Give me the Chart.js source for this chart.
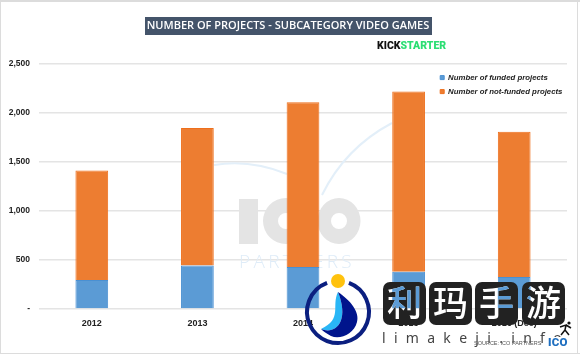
<!DOCTYPE html>
<html>
<head>
<meta charset="utf-8">
<style>
  html, body { margin: 0; padding: 0; background: #fff; }
  #wrap { position: relative; width: 580px; height: 354px; }
</style>
<script src="https://cdn.jsdelivr.net/npm/chart.js@4"></script>
</head>
<body>
<div id="wrap"><canvas id="chart" width="580" height="354"></canvas></div>
<script>
const years = ['2012', '2013', '2014', '2015', '2016 (Dec)']
const funded = [295, 442, 428, 380, 326]
const notFunded = [1115, 1400, 1677, 1835, 1479]
const yTicks = [0, 500, 1000, 1500, 2000, 2500]

const titleText = 'NUMBER OF PROJECTS - SUBCATEGORY VIDEO GAMES'
const brandChars = ['利', '玛', '手', '游']

const blue = '#5b9bd5'
const orange = '#ed7d31'

// frame, title plate and the faint logo behind the bars
const backdrop = {
    id: 'backdrop',
    beforeDraw(chart) {
        const { ctx } = chart
        ctx.save()
        ctx.fillStyle = '#fff'
        ctx.fillRect(0, 0, 580, 354)
        ctx.fillStyle = '#dcdcdc'
        ctx.fillRect(0, 0, 580, 2)
        ctx.fillRect(0, 0, 1, 354)
        ctx.fillRect(577, 0, 1, 354)
        ctx.fillRect(0, 353, 580, 1)
        ctx.fillStyle = '#44546a'
        ctx.fillRect(145, 17, 287, 18)
        ctx.restore()
    },
    beforeDatasetsDraw(chart) {
        const { ctx } = chart
        ctx.save()
        ctx.fillStyle = '#e4e4e4'
        ctx.fillRect(239, 199, 19, 45)
        ctx.beginPath()
        ctx.ellipse(286, 221, 23, 23, 0, 0, Math.PI * 2)
        ctx.ellipse(339, 221, 21.5, 23, 0, 0, Math.PI * 2)
        ctx.fill()
        ctx.fillStyle = '#fff'
        ctx.beginPath()
        ctx.arc(339, 221, 8, 0, Math.PI * 2)
        ctx.arc(286, 221, 8, 0, Math.PI * 2)
        ctx.fill()
        ctx.fillStyle = '#dfecf8'
        ctx.textBaseline = 'alphabetic'
        ctx.font = '300 19px "Open Sans"'
        ctx.letterSpacing = '3.3px'
        ctx.fillText('PARTNERS', 239, 268)
        ctx.letterSpacing = '0px'
        ctx.strokeStyle = '#e3eff9'
        ctx.lineWidth = 2
        ctx.beginPath()
        ctx.moveTo(214, 165)
        ctx.quadraticCurveTo(250, 159, 287, 174)
        ctx.moveTo(322, 195)
        ctx.quadraticCurveTo(345, 148, 392, 123)
        ctx.stroke()
        ctx.restore()
    }
}

// the stamp over the finished chart: kickstarter mark, round logo, dark tiles
const overlay = {
    id: 'overlay',
    afterLayout(chart) {
        chart.legend.left = 434
        chart.legend.top = 67.5
    },
    afterDraw(chart) {
        const { ctx } = chart
        ctx.save()

        ctx.textBaseline = 'alphabetic'
        ctx.font = '900 10.5px Roboto'
        ctx.fillStyle = '#111'
        ctx.fillText('KICK', 377, 49)
        const kickWidth = ctx.measureText('KICK').width
        ctx.fillStyle = '#2bde73'
        ctx.fillText('STARTER', 377 + kickWidth, 49)

        // round logo, open at the top for the yellow dot
        ctx.strokeStyle = '#0b1f80'
        ctx.lineWidth = 4
        ctx.beginPath()
        ctx.arc(338, 312, 31, -Math.PI / 2 + 0.36, -Math.PI / 2 - 0.36 + Math.PI * 2)
        ctx.stroke()
        ctx.fillStyle = '#ffc20e'
        ctx.beginPath()
        ctx.arc(338, 281, 7, 0, Math.PI * 2)
        ctx.fill()
        ctx.fillStyle = '#29b6f6'
        ctx.beginPath()
        ctx.moveTo(338, 292)
        ctx.bezierCurveTo(331, 306, 343, 319, 321, 329)
        ctx.bezierCurveTo(335, 335, 350, 322, 338, 292)
        ctx.fill()
        ctx.fillStyle = '#00148c'
        ctx.beginPath()
        ctx.moveTo(338, 292)
        ctx.bezierCurveTo(350, 300, 360, 312, 357, 322)
        ctx.bezierCurveTo(354, 334, 340, 340, 331, 336)
        ctx.bezierCurveTo(327, 334, 323, 331, 321, 329)
        ctx.bezierCurveTo(335, 335, 350, 322, 338, 292)
        ctx.fill()

        // dark tiles with cut-out characters, the bars show through them
        const tileX = [383, 429, 475, 522]
        tileX.forEach(x => {
            ctx.fillStyle = '#222'
            ctx.beginPath()
            ctx.roundRect(x, 282, 43, 43, 7)
            ctx.fill()
        })
        ctx.font = '500 35px "Noto Sans CJK SC"'
        ctx.textAlign = 'center'
        ctx.textBaseline = 'middle'
        const drawBrand = color => {
            ctx.fillStyle = color
            brandChars.forEach((c, i) => ctx.fillText(c, tileX[i] + 21.5, 303))
        }
        drawBrand('#fff')
        chart.getDatasetMeta(0).data.forEach(bar => {
            ctx.save()
            ctx.beginPath()
            ctx.rect(bar.x - bar.width / 2, bar.y, bar.width, bar.base - bar.y)
            ctx.clip()
            drawBrand(blue)
            ctx.restore()
        })

        ctx.textAlign = 'left'
        ctx.textBaseline = 'alphabetic'
        ctx.fillStyle = '#444'
        ctx.font = '14px "Noto Sans"'
        ctx.letterSpacing = '8.3px'
        ctx.fillText('limakeji.info', 382, 343)
        ctx.letterSpacing = '0px'

        ctx.fillStyle = '#555'
        ctx.font = '5.5px "Liberation Sans"'
        ctx.fillText('SOURCE: ICO PARTNERS', 474, 345)
        ctx.fillStyle = '#1f6fc0'
        ctx.font = '900 11.5px Roboto'
        ctx.letterSpacing = '0.3px'
        ctx.fillStyle = '#fff'
        ctx.fillRect(547, 337, 24, 10)
        ctx.fillStyle = '#1f6fc0'
        ctx.fillText('ICO', 548, 346)
        ctx.letterSpacing = '0px'

        // runner
        ctx.strokeStyle = '#111'
        ctx.lineWidth = 1.5
        ctx.beginPath()
        ctx.moveTo(561, 335)
        ctx.lineTo(565, 330)
        ctx.lineTo(569, 335)
        ctx.moveTo(560, 327)
        ctx.lineTo(566, 325)
        ctx.lineTo(565, 330)
        ctx.moveTo(566, 325)
        ctx.lineTo(571, 328)
        ctx.stroke()
        ctx.fillStyle = '#111'
        ctx.beginPath()
        ctx.arc(569, 323, 1.6, 0, Math.PI * 2)
        ctx.fill()

        ctx.restore()
    }
}

new Chart(document.getElementById('chart'), {
    type: 'bar',
    data: {
        labels: years,
        datasets: [
            { label: 'Number of funded projects', data: funded, backgroundColor: blue, borderColor: '#4a90d2', borderWidth: 1 },
            { label: 'Number of not-funded projects', data: notFunded, backgroundColor: orange, borderColor: '#ee6f1c', borderWidth: 1 }
        ]
    },
    plugins: [backdrop, overlay],
    options: {
        responsive: false,
        animation: false,
        barPercentage: 1,
        categoryPercentage: 0.31,
        layout: { padding: { left: 9, right: 13 } },
        plugins: {
            tooltip: { enabled: false },
            title: {
                display: true,
                text: titleText,
                color: '#fff',
                font: { family: '"Open Sans"', size: 11, weight: '600' },
                padding: { top: 19.5, bottom: 30.8 }
            },
            legend: {
                position: 'chartArea',
                align: 'start',
                labels: {
                    boxWidth: 4,
                    boxHeight: 4,
                    padding: 6.2,
                    color: '#222',
                    font: { family: '"Liberation Sans"', size: 7.8, style: 'italic', weight: 'bold' }
                }
            }
        },
        scales: {
            x: {
                stacked: true,
                grid: { display: false },
                border: { display: false },
                ticks: {
                    color: '#222',
                    padding: 1,
                    maxRotation: 0,
                    font: { family: '"Liberation Sans"', size: 9, weight: 'bold' }
                },
                afterFit(scale) { scale.height = 45 }
            },
            y: {
                stacked: true,
                min: 0,
                max: 2500,
                afterBuildTicks(scale) { scale.ticks = yTicks.map(value => ({ value })) },
                grid: { color: '#e4e4e4', lineWidth: 1.5, drawTicks: false },
                border: { display: false },
                ticks: {
                    color: '#222',
                    padding: 9,
                    font: { family: '"Liberation Sans"', size: 8.5, weight: 'bold' },
                    callback: value => value === 0 ? '-' : value.toLocaleString('en-US')
                },
                afterFit(scale) { scale.width = 30 }
            }
        }
    }
})
</script>
</body>
</html>
